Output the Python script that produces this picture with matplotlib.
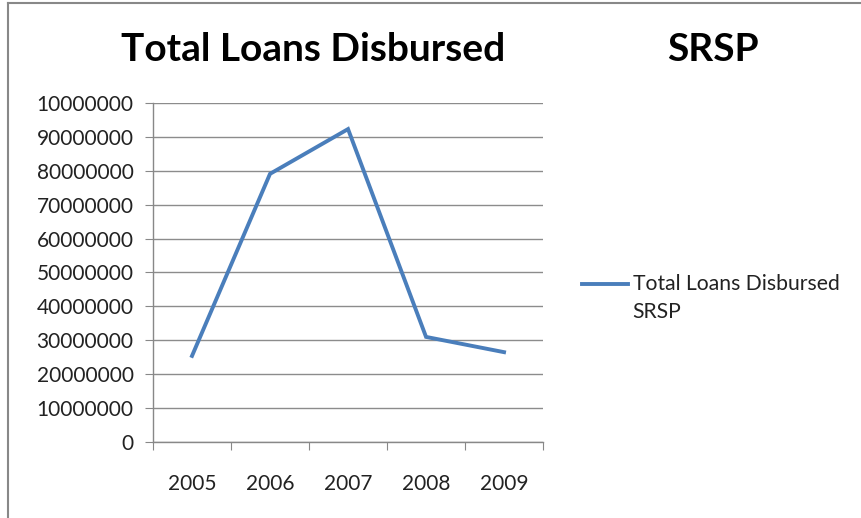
import numpy as np
from matplotlib import pyplot as plt
from matplotlib.lines import Line2D

years = ['2005', '2006', '2007', '2008', '2009']
loans = [25400000, 79100000, 92300000, 31000000, 26500000]
ytick_vals = [0, 10000000, 20000000, 30000000, 40000000, 50000000,
              60000000, 70000000, 80000000, 90000000, 100000000]
ytick_labels = ['0', '10000000', '20000000', '30000000', '40000000', '50000000',
                '60000000', '70000000', '80000000', '90000000', '10000000']
series_name = 'Total Loans Disbursed\nSRSP'

plt.rcParams['font.family'] = ['Lato', 'DejaVu Sans']

fig = plt.figure(figsize=(8.62, 5.18), dpi=100)
ax = fig.add_axes([0.1775, 0.1467, 0.4525, 0.6545])

x = np.arange(len(years))
line, = ax.plot(x, loans, color='#4a7ebb', linewidth=2.8,
                solid_joinstyle='miter')

ax.set_xlim(-0.5, len(years) - 0.5)
ax.set_ylim(0, 100000000)
ax.set_yticks(ytick_vals)
ax.set_yticklabels(ytick_labels, fontsize=15, color='#222222')
ax.set_xticks(np.arange(len(years) + 1) - 0.5)
ax.set_xticklabels([])
ax.set_xticks(x, minor=True)
ax.set_xticklabels(years, minor=True, fontsize=15, color='#222222')
ax.tick_params(axis='x', which='minor', length=0, pad=23)
ax.tick_params(axis='x', which='major', length=6, color='#888888', direction='out')
ax.tick_params(axis='y', length=6, color='#888888', direction='out', pad=8)

ax.grid(axis='y', color='#8c8c8c', linewidth=1)
ax.set_axisbelow(True)
for s in ['top', 'right']:
    ax.spines[s].set_visible(False)
for s in ['left', 'bottom']:
    ax.spines[s].set_color('#888888')
    ax.spines[s].set_linewidth(1)

fig.text(0.363, 0.905, 'Total Loans Disbursed', ha='center', va='center',
         fontsize=28, fontweight='bold')
fig.text(0.827, 0.905, 'SRSP', ha='center', va='center',
         fontsize=28, fontweight='bold')

# legend, drawn by hand so the key sits on the first text line
fig.add_artist(Line2D([0.675, 0.729], [0.452, 0.452], color=line.get_color(),
                      linewidth=2.8))
fig.text(0.734, 0.452 + 0.019, series_name, ha='left', va='top',
         fontsize=15.2, color='#222222', linespacing=1.5)

# chart border
fig.add_artist(Line2D([0.0093, 0.0093], [0, 0.994], color='#888888', linewidth=1.5))
fig.add_artist(Line2D([0.0093, 1], [0.994, 0.994], color='#888888', linewidth=1.5))

fig.savefig('out.png', dpi=100)
